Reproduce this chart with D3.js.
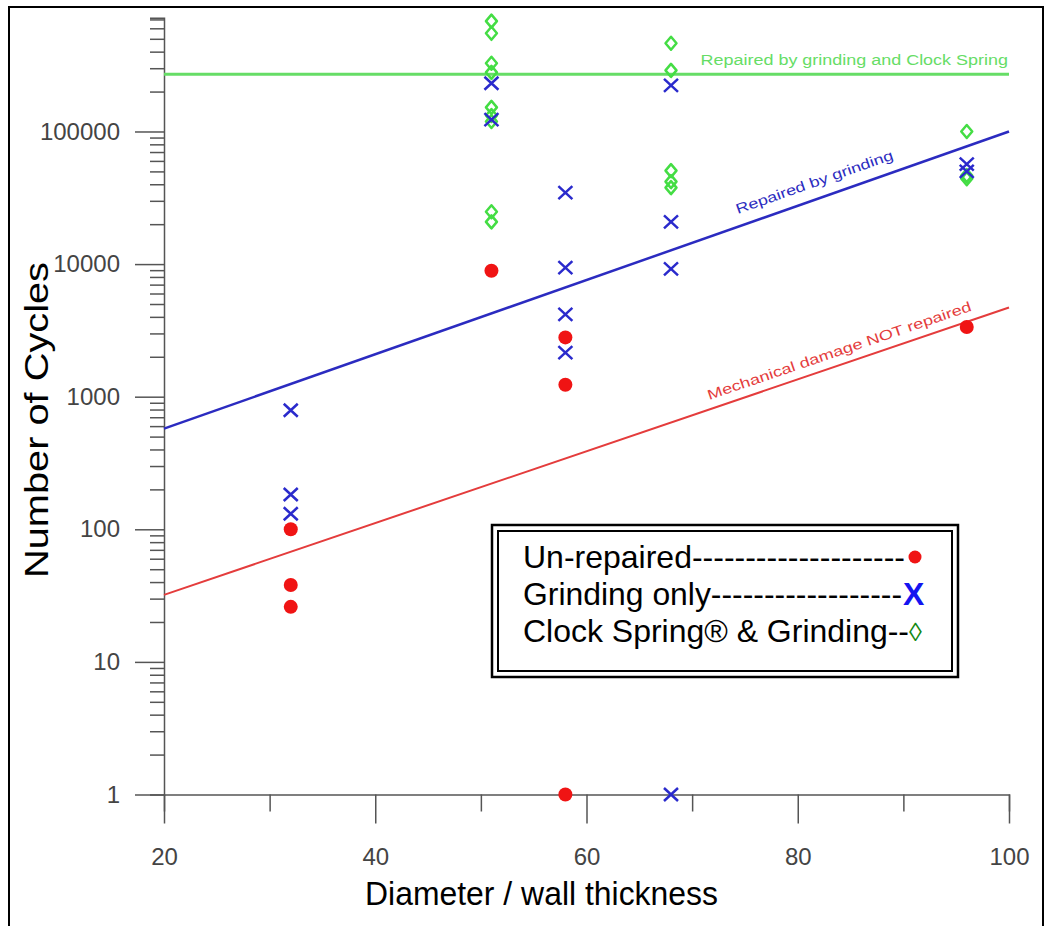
<!DOCTYPE html>
<html>
<head>
<meta charset="utf-8">
<script src="https://cdn.jsdelivr.net/npm/d3@7"></script>
<style>
  body { margin: 0; background: #fff; }
  svg { display: block; }
  text { font-family: "Liberation Sans", Arial, sans-serif; }
</style>
</head>
<body>
<div id="chart"></div>
<script>
var width = 1052, height = 926

// axis ticks
var xTicks = [20, 40, 60, 80, 100]
var xMinorTicks = [30, 50, 70, 90]
var yTicks = [1, 10, 100, 1000, 10000, 100000]

// test results [D/t, cycles]
var unrepaired = [[32, 100], [32, 38], [32, 26], [51, 8900], [58, 2800], [58, 1230], [58, 1], [96, 3350]]
var grindingOnly = [[32, 790], [32, 183], [32, 131], [51, 231000], [51, 123000],
  [58, 34600], [58, 9400], [58, 4180], [58, 2150],
  [68, 223000], [68, 20800], [68, 9200], [68, 1], [96, 56800], [96, 50000]]
var clockSpring = [[51, 680000], [51, 550000], [51, 327000], [51, 279000], [51, 152000],
  [51, 132000], [51, 119000], [51, 24800], [51, 20800],
  [68, 463000], [68, 289000], [68, 50700], [68, 41900], [68, 37700],
  [96, 100000], [96, 46500], [96, 44000]]

// trend lines, values at D/t = 20 and 100
var fitX = [20, 100]
var unrepairedFit = [32, 4700]
var grindingFit = [575, 100000]
var clockSpringFit = [270000, 270000]

var svg = d3.select("#chart")
  .append("svg")
  .attr("width", width)
  .attr("height", height)

// page frame
svg.append("rect")
  .attr("x", 9).attr("y", 7)
  .attr("width", 1034).attr("height", 960)
  .attr("fill", "none")
  .attr("stroke", "#000")
  .attr("stroke-width", 2)

var xScale = d3.scaleLinear()
  .domain([20, 100])
  .range([164, 1009])

var yScale = d3.scaleLog()
  .domain([1, 720000])
  .range([794.5, 17.8])

var axisColor = "#555"

// Y axis with log minor ticks
var yAxis = d3.axisLeft(yScale)
  .tickValues(yScale.ticks())
  .tickSize(14)
  .tickFormat(function(d) { return yTicks.indexOf(d) >= 0 ? d : "" })

var gy = svg.append("g")
  .attr("transform", "translate(164,0)")
  .call(yAxis)
gy.select(".domain").attr("stroke", axisColor).attr("stroke-width", 1.5)
gy.selectAll(".tick line")
  .attr("stroke", axisColor)
  .attr("stroke-width", 1.5)
  .attr("x2", function(d) { return yTicks.indexOf(d) >= 0 ? -29 : -14 })
gy.selectAll(".tick text")
  .attr("x", -44)
  .attr("fill", "#444")
  .style("font-size", "24px")

// X axis
var xAxis = d3.axisBottom(xScale)
  .tickValues(xTicks.concat(xMinorTicks))
  .tickSize(17)
  .tickFormat(function(d) { return xTicks.indexOf(d) >= 0 ? d : "" })

var gx = svg.append("g")
  .attr("transform", "translate(0," + yScale(1) + ")")
  .call(xAxis)
gx.select(".domain").attr("stroke", axisColor).attr("stroke-width", 1.5)
gx.selectAll(".tick line")
  .attr("stroke", axisColor)
  .attr("stroke-width", 1.5)
  .attr("y2", function(d) { return xTicks.indexOf(d) >= 0 ? 29 : 17 })
gx.selectAll(".tick text")
  .attr("y", 53)
  .attr("fill", "#444")
  .style("font-size", "24px")

// axis titles
svg.append("text")
  .attr("x", 365).attr("y", 905)
  .attr("textLength", 353)
  .attr("lengthAdjust", "spacingAndGlyphs")
  .style("font-size", "33px")
  .text("Diameter / wall thickness")

svg.append("text")
  .attr("transform", "translate(48,578) rotate(-90)")
  .attr("textLength", 316)
  .attr("lengthAdjust", "spacingAndGlyphs")
  .style("font-size", "33px")
  .text("Number of Cycles")

// trend lines
var fits = [
  {vals: clockSpringFit, color: "#66dd66", w: 3, label: "Repaired by grinding and Clock Spring", from: 70.8, to: 99.9, off: 9},
  {vals: grindingFit, color: "#2b2bc0", w: 2.5, label: "Repaired by grinding", from: 74.7, to: 89.5, off: 12},
  {vals: unrepairedFit, color: "#e43c3c", w: 2, label: "Mechanical damage NOT repaired", from: 71.9, to: 96.8, off: 9}
]

fits.forEach(function(f) {
  var pts = fitX.map(function(x, i) { return [xScale(x), yScale(f.vals[i])] })
  svg.append("line")
    .attr("x1", pts[0][0]).attr("y1", pts[0][1])
    .attr("x2", pts[1][0]).attr("y2", pts[1][1])
    .attr("stroke", f.color)
    .attr("stroke-width", f.w)

  // value on the (log-linear) line at a given x
  var at = function(x) {
    var t = (x - fitX[0]) / (fitX[1] - fitX[0])
    var lv = Math.log10(f.vals[0]) + t * (Math.log10(f.vals[1]) - Math.log10(f.vals[0]))
    return [xScale(x), yScale(Math.pow(10, lv))]
  }
  var a = at(f.from), b = at(f.to)
  var ang = Math.atan2(b[1] - a[1], b[0] - a[0]) * 180 / Math.PI
  var len = Math.hypot(b[0] - a[0], b[1] - a[1])
  svg.append("text")
    .attr("transform", "translate(" + a[0] + "," + a[1] + ") rotate(" + ang + ")")
    .attr("y", -f.off)
    .attr("textLength", len)
    .attr("lengthAdjust", "spacingAndGlyphs")
    .attr("fill", f.color)
    .style("font-size", "14px")
    .text(f.label)
})

// markers
svg.selectAll(".diamond")
  .data(clockSpring)
  .enter()
  .append("path")
  .attr("class", "diamond")
  .attr("d", "M0,-6.5L5.5,0L0,6.5L-5.5,0Z")
  .attr("transform", function(d) { return "translate(" + xScale(d[0]) + "," + yScale(d[1]) + ")" })
  .attr("fill", "none")
  .attr("stroke", "#44dd44")
  .attr("stroke-width", 2.5)
  .attr("stroke-linejoin", "round")

svg.selectAll(".cross")
  .data(grindingOnly)
  .enter()
  .append("path")
  .attr("class", "cross")
  .attr("d", "M-7,-6.5L7,6.5M7,-6.5L-7,6.5")
  .attr("transform", function(d) { return "translate(" + xScale(d[0]) + "," + yScale(d[1]) + ")" })
  .attr("stroke", "#2a2acc")
  .attr("stroke-width", 2.5)

svg.selectAll(".dot")
  .data(unrepaired)
  .enter()
  .append("circle")
  .attr("class", "dot")
  .attr("cx", function(d) { return xScale(d[0]) })
  .attr("cy", function(d) { return yScale(d[1]) })
  .attr("r", 7)
  .attr("fill", "#f01414")

// legend box
var legend = svg.append("g")
legend.append("rect")
  .attr("x", 492).attr("y", 525).attr("width", 466).attr("height", 152)
  .attr("fill", "#fff").attr("stroke", "#000").attr("stroke-width", 2.5)
legend.append("rect")
  .attr("x", 498).attr("y", 531).attr("width", 454).attr("height", 140)
  .attr("fill", "none").attr("stroke", "#000").attr("stroke-width", 2)

var legendLabels = ["Un-repaired--------------------", "Grinding only------------------", "Clock Spring\u00ae & Grinding--"]
var legendEnds = [905, 902, 909]

legend.selectAll(".leg")
  .data(legendLabels)
  .enter()
  .append("text")
  .attr("x", 523)
  .attr("y", function(d, i) { return 568 + i * 37 })
  .attr("textLength", function(d, i) { return legendEnds[i] - 523 })
  .attr("lengthAdjust", "spacingAndGlyphs")
  .style("font-size", "32px")
  .text(function(d) { return d })

legend.append("circle")
  .attr("cx", 915).attr("cy", 557).attr("r", 6.5)
  .attr("fill", "#f01414")
legend.append("text")
  .attr("x", 903).attr("y", 605)
  .attr("fill", "#1414f0")
  .style("font-size", "32px")
  .style("font-weight", "bold")
  .text("X")
legend.append("text")
  .attr("x", 909).attr("y", 641)
  .attr("fill", "#118811")
  .style("font-size", "26px")
  .text("\u25ca")
</script>
</body>
</html>
